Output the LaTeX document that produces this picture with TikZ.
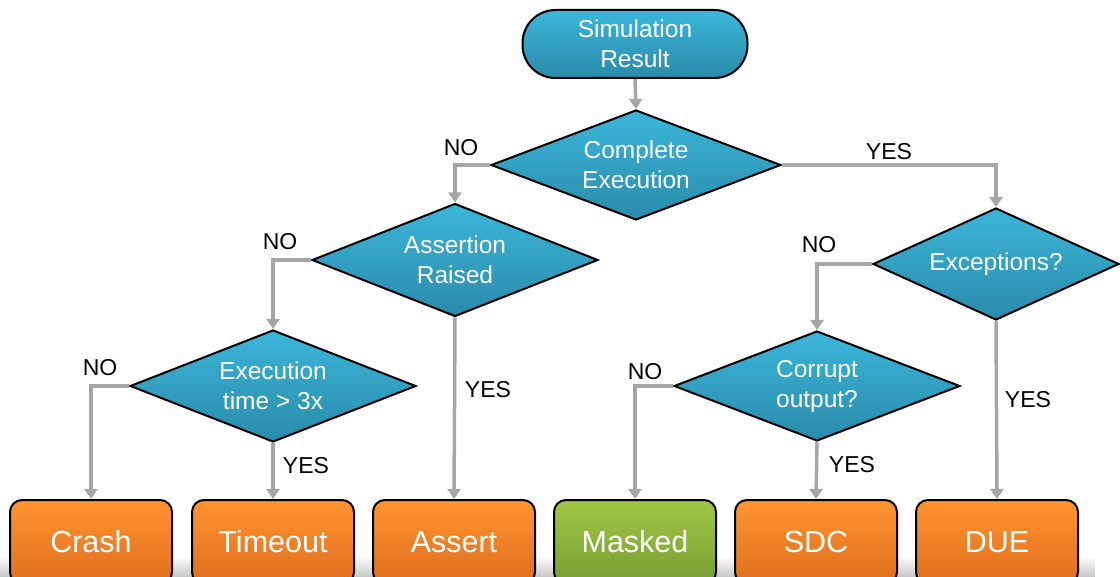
\documentclass[tikz,border=0pt]{standalone}
\usepackage{fontspec}
\setmainfont{Liberation Sans}
\usetikzlibrary{shapes.geometric,arrows.meta}
\definecolor{tealtop}{HTML}{3BB6DA}
\definecolor{tealbot}{HTML}{2A8BA9}
\definecolor{orangetop}{HTML}{FF9430}
\definecolor{orangebot}{HTML}{DE6F1E}
\definecolor{greentop}{HTML}{A0C845}
\definecolor{greenbot}{HTML}{789C33}
\definecolor{linkgray}{HTML}{A6A6A6}
\tikzset{
  base/.style={draw=black, line width=2pt, text=white, align=center, inner sep=0pt},
  startbox/.style={base, rectangle, rounded corners=33pt, minimum width=225pt, minimum height=68pt,
    top color=tealtop, bottom color=tealbot, font=\fontsize{24.5}{30}\selectfont},
  decision/.style={base, diamond, aspect=2.6, top color=tealtop, bottom color=tealbot,
    font=\fontsize{24.5}{30}\selectfont},
  outcome/.style={base, rectangle, rounded corners=12pt, minimum width=162pt, minimum height=84pt,
    top color=orangetop, bottom color=orangebot, font=\fontsize{30.5}{34}\selectfont},
  goodout/.style={outcome, top color=greentop, bottom color=greenbot},
  link/.style={draw=linkgray, line width=3.5pt, -{Triangle[width=13pt,length=10pt]}},
  tag/.style={font=\fontsize{23}{26}\selectfont, text=black, inner sep=0pt}
}
\begin{document}
\begin{tikzpicture}[x=1pt,y=-1pt]
\useasboundingbox (0,0) rectangle (1120,577);
% soft shadow under the row of outcomes
\fill[top color=white, bottom color=gray!45] (0,556) rectangle (1095,577);

% start
\node[startbox] (sim) at (635,44) {Simulation\\Result};

% decisions
\node[decision, minimum width=290pt, minimum height=110pt] (ce) at (636,165) {Complete\\Execution};
\node[decision, minimum width=286pt, minimum height=113pt] (ar) at (455,260) {Assertion\\Raised};
\node[decision, minimum width=286pt, minimum height=112pt] (et) at (273,386) {Execution\\time > 3x};
\node[decision, minimum width=246pt, minimum height=112pt, aspect=2.2] (ex) at (996,264) {Exceptions?};
\node[decision, minimum width=286pt, minimum height=110pt] (co) at (817,386) {Corrupt\\output?};

% outcomes
\node[outcome] (crash)   at (91,542)  {Crash};
\node[outcome] (timeout) at (273,542) {Timeout};
\node[outcome] (assert)  at (454,542) {Assert};
\node[goodout] (masked)  at (635,542) {Masked};
\node[outcome] (sdc)     at (816,542) {SDC};
\node[outcome] (due)     at (997,542) {DUE};

% connectors
\draw[link] (sim.south) -- (ce.north);
\draw[link] (ce.west) -| (ar.north);
\draw[link] (ce.east) -| (ex.north);
\draw[link] (ar.west) -| (et.north);
\draw[link] (ar.south) -- (assert.north);
\draw[link] (et.west) -| (crash.north);
\draw[link] (et.south) -- (timeout.north);
\draw[link] (ex.west) -| (co.north);
\draw[link] (ex.south) -- (due.north);
\draw[link] (co.west) -| (masked.north);
\draw[link] (co.south) -- (sdc.north);

% branch labels
\node[tag] (l1) at (461,148) {NO};
\node[tag] (l2) at (889,152) {YES};
\node[tag] (l3) at (280,242) {NO};
\node[tag] (l4) at (488,390) {YES};
\node[tag] (l5) at (100,368) {NO};
\node[tag] (l6) at (306,466) {YES};
\node[tag] (l7) at (819,245) {NO};
\node[tag] (l8) at (1028,400) {YES};
\node[tag] (l9) at (645,372) {NO};
\node[tag] (l10) at (852,465) {YES};
\end{tikzpicture}
\end{document}
